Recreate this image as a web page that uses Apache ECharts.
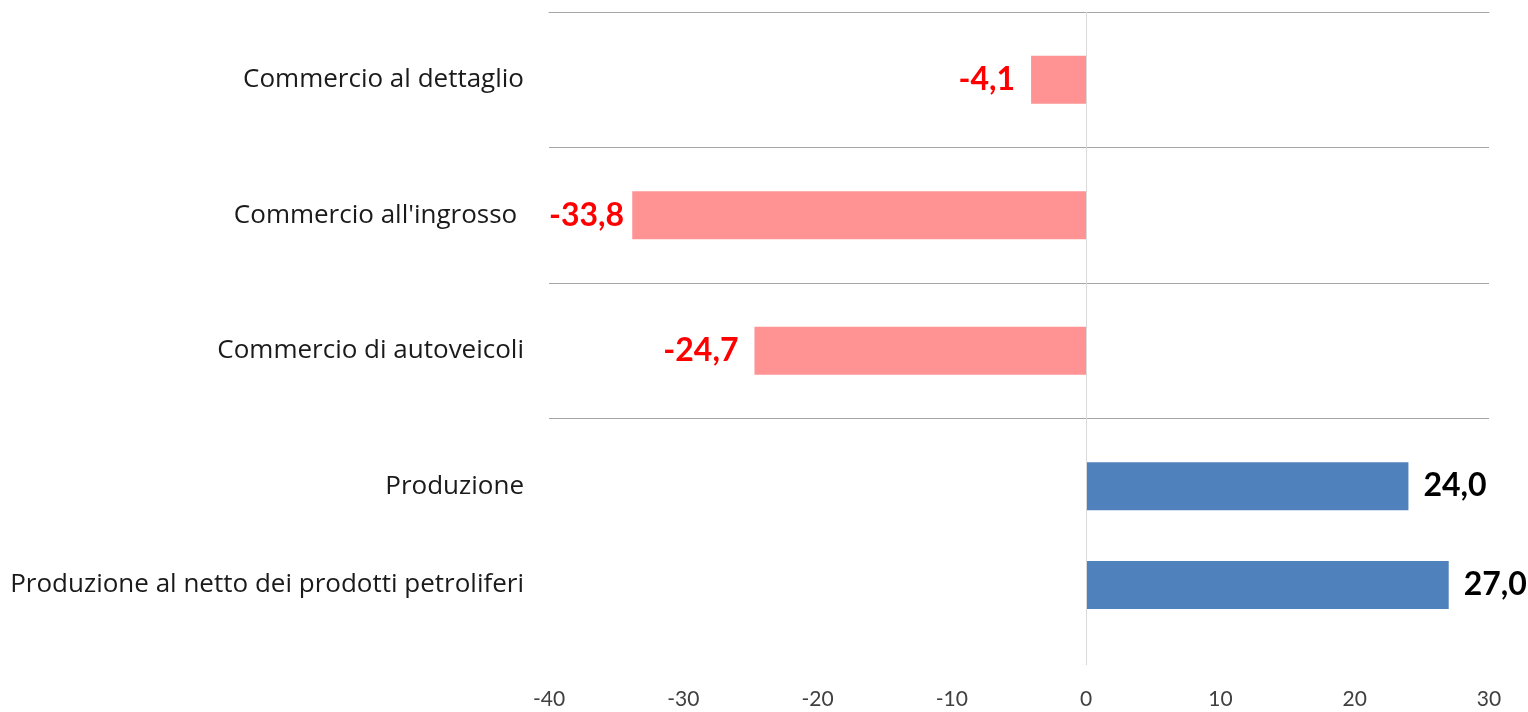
<!DOCTYPE html>
<html>
<head>
<meta charset="utf-8">
<script src="https://cdn.jsdelivr.net/npm/echarts@6/dist/echarts.min.js"></script>
<style>
    html, body { margin: 0; padding: 0; background: #fff; }
    #chart { width: 1528px; height: 712px; }
</style>
</head>
<body>
<div id="chart"></div>
<script>
// dati
const categorie = [
    "Commercio al dettaglio",
    "Commercio all'ingrosso ",
    "Commercio di autoveicoli",
    "Produzione",
    "Produzione al netto dei prodotti petroliferi"
];
const valori = [-4.1, -33.8, -24.7, 24.0, 27.0];
const tickX = [-40, -30, -20, -10, 0, 10, 20, 30];

// layout delle righe (asse verticale numerico, righe non equidistanti)
const posRighe = [0.5, 1.5, 2.5, 3.5, 4.23];
const lineeGriglia = [0, 1, 2, 3];
const maxY = 4.82;

const fontEtichette = "bold 32px Lato";
const fmt = v => v.toFixed(1).replace(".", ",");

// misura testo per tenere le etichette dentro l'area del grafico (come Excel)
const ctx = document.createElement("canvas").getContext("2d");
ctx.font = fontEtichette;
const larghezza = t => ctx.measureText(t).width;

const chart = echarts.init(document.getElementById("chart"));
const GRID_LEFT = 549;

chart.setOption({
    animation: false,
    grid: { left: GRID_LEFT, right: 39, top: 12, bottom: 47 },
    xAxis: {
        type: "value",
        min: tickX[0],
        max: tickX[tickX.length - 1],
        interval: 10,
        axisLine: { show: true, lineStyle: { color: "#a6a6a6", width: 1 } },
        axisTick: { show: false },
        splitLine: { show: false },
        axisLabel: {
            margin: 24,
            color: "#404040",
            fontFamily: "Lato",
            fontSize: 21
        }
    },
    yAxis: {
        type: "value",
        inverse: true,
        min: 0,
        max: maxY,
        axisLine: { show: false, onZero: false },
        axisTick: { show: false },
        splitLine: { show: false },
        axisLabel: {
            customValues: posRighe,
            margin: 25,
            color: "#1a1a1a",
            fontFamily: "Open Sans",
            fontSize: 26,
            formatter: (v) => {
                const i = posRighe.indexOf(v);
                return i >= 0 ? categorie[i] : "";
            }
        }
    },
    series: [{
        type: "custom",
        encode: { x: 0, y: 1 },
        data: valori.map((v, i) => [v, posRighe[i]]),
        renderItem: (params, api) => {
            const v = api.value(0);
            const y = api.value(1);
            const p0 = api.coord([0, y]);
            const p1 = api.coord([v, y]);
            const h = 48;
            const neg = v < 0;
            const testo = fmt(v);
            let dist = 15;
            if (neg) {
                const spazio = p1[0] - GRID_LEFT - larghezza(testo);
                dist = Math.max(4, Math.min(16, spazio));
            }
            return {
                type: "rect",
                shape: {
                    x: Math.min(p0[0], p1[0]),
                    y: p0[1] - h / 2,
                    width: Math.abs(p1[0] - p0[0]),
                    height: h
                },
                style: { fill: neg ? "#ff9393" : "#4f81bd" },
                textContent: {
                    style: {
                        text: testo,
                        fill: neg ? "#ff0000" : "#000000",
                        font: fontEtichette
                    }
                },
                textConfig: { position: neg ? "left" : "right", distance: dist }
            };
        },
        markLine: {
            silent: true,
            symbol: "none",
            label: { show: false },
            data: [
                ...lineeGriglia.map(g => ({ yAxis: g, lineStyle: { color: "#a6a6a6", width: 1, type: "solid" } })),
                { xAxis: 0, lineStyle: { color: "#d9d9d9", width: 1, type: "solid" } }
            ]
        }
    }]
});
</script>
</body>
</html>
